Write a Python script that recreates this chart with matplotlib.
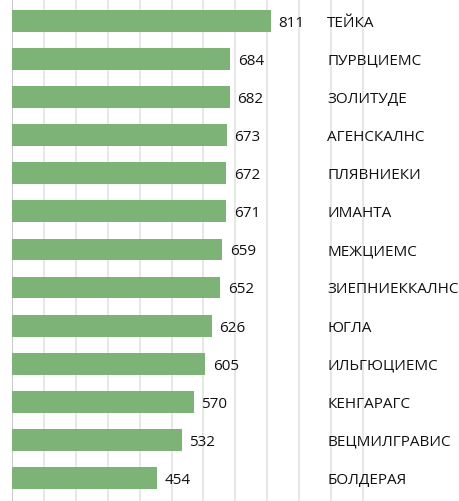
import matplotlib
matplotlib.use('Agg')
import matplotlib.pyplot as plt

plt.rcParams['font.family'] = ['Open Sans', 'DejaVu Sans']

names = ['ТЕЙКА', 'ПУРВЦИЕМС', 'ЗОЛИТУДЕ', 'АГЕНСКАЛНС', 'ПЛЯВНИЕКИ', 'ИМАНТА', 'МЕЖЦИЕМС',
         'ЗИЕПНИЕККАЛНС', 'ЮГЛА', 'ИЛЬГЮЦИЕМС', 'КЕНГАРАГС', 'ВЕЦМИЛГРАВИС', 'БОЛДЕРАЯ']
values = [811, 684, 682, 673, 672, 671, 659, 652, 626, 605, 570, 532, 454]
grid_ticks = list(range(0, 1101, 100))

fig = plt.figure(figsize=(4.6, 5.02), dpi=100)
ax = fig.add_axes([11.7/460, 0, 1 - 11.7/460, 1])
ax.set_xlim(0, 448.3/0.3196)
ax.set_ylim(12.6, -0.57)

ax.set_xticks(grid_ticks)
ax.xaxis.grid(True, color='#e3e3e3', lw=1.2)
ax.set_axisbelow(True)
ax.axvline(0, color='#cccccc', lw=1.5, zorder=1)
ax.tick_params(length=0, labelbottom=False, labelleft=False)
ax.set_yticks([])
for s in ax.spines.values():
    s.set_visible(False)

ypos = list(range(len(values)))
ax.barh(ypos, values, height=0.57, color='#7db377', zorder=2)

for i, v in enumerate(values):
    ax.annotate(f'{v}', (v, i), xytext=(5.5, -1), textcoords='offset points',
                va='center', ha='left', fontsize=11, color='#111111')
    ax.annotate(names[i], (0.704, i), xycoords=ax.get_yaxis_transform(),
                xytext=(0, -1), textcoords='offset points',
                va='center', ha='left', fontsize=11, color='#111111')

plt.savefig('out.png', dpi=100)
